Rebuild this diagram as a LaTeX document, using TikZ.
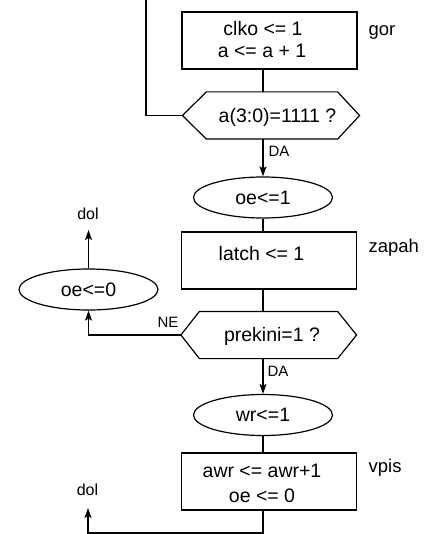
\documentclass[tikz,border=0pt]{standalone}
\usepackage{fontspec}
\setmainfont{Liberation Sans}
\usetikzlibrary{arrows.meta,shapes.geometric}
\begin{document}
\begin{tikzpicture}[x=1pt,y=-1pt,line width=1.2pt,
  stepbox/.style={draw,rectangle,minimum width=175pt,minimum height=57pt,inner sep=0pt},
  oval/.style={draw,ellipse,minimum width=139pt,minimum height=41pt,inner sep=0pt,
    font=\fontsize{19.5}{21}\selectfont},
  hexcore/.style={rectangle,minimum height=46pt,inner sep=0pt},
  txt/.style={font=\fontsize{19.5}{21}\selectfont,anchor=base,inner sep=0pt},
  lbl/.style={font=\fontsize{18.5}{20}\selectfont,anchor=base west,inner sep=0pt},
  tag/.style={font=\fontsize{15}{17}\selectfont,anchor=base west,inner sep=0pt},
  exit/.style={font=\fontsize{16}{18}\selectfont,anchor=base,inner sep=0pt},
  flow/.style={-{Stealth[length=10pt,width=7pt,inset=2pt]}}]
\useasboundingbox (0,0) rectangle (435,534);

% main vertical axis of the chart
\coordinate (ax) at (263,0);

% state "gor"
\node[stepbox] (gor) at (269.5,40.5) {};
\node[txt] (gor1) at (263,36) {clko <= 1};
\node[txt] (gor2) at (262,57.5) {a <= a + 1};
\node[lbl] (gorlbl) at (368,36) {gor};

% decision a(3:0)=1111 ?
\node[hexcore,minimum width=130pt] (h1) at (272,115.5) {};
\draw (h1.north west) -- (h1.north east) -- ([xshift=22pt]h1.east)
  -- (h1.south east) -- (h1.south west) -- ([xshift=-24pt]h1.west) -- cycle;
\coordinate (h1l) at ([xshift=-24pt]h1.west);
\node[txt] (h1t) at (277.5,122.5) {a(3:0)=1111 ?};

% loop back from the left tip
\coordinate (loop) at (146,0);
\draw (loop) |- (h1l);
\draw (gor.south -| ax) -- (h1.north -| ax);

% oe<=1
\node[oval] (oe1) at (263,197.5) {oe<=1};
\draw[flow] (h1.south -| ax) -- (oe1.north);
\node[tag] (da1) at (268,157) {DA};

% state "zapah"
\node[stepbox] (zap) at (269,260.5) {};
\node[txt] (zapt) at (261.5,260) {latch <= 1};
\node[lbl] (zaplbl) at (368,252.7) {zapah};
\draw (oe1.south) -- (zap.north -| ax);

% decision prekini=1 ?
\node[hexcore,minimum width=137pt] (h2) at (268.5,335) {};
\draw (h2.north west) -- (h2.north east) -- ([xshift=19pt]h2.east)
  -- (h2.south east) -- (h2.south west) -- ([xshift=-18.5pt]h2.west) -- cycle;
\coordinate (h2l) at ([xshift=-18.5pt]h2.west);
\node[txt] (h2t) at (272,341.5) {prekini=1 ?};
\draw (zap.south -| ax) -- (h2.north -| ax);

% NE branch
\node[oval] (oe0) at (88.5,289.5) {oe<=0};
\draw[flow] (h2l) -| (oe0.south);
\node[tag] (ne) at (157,327) {NE};
\coordinate (dolA) at (88.5,230);
\draw[flow] (oe0.north) -- (dolA);
\node[exit] (dolAt) at (88,219.5) {dol};

% DA branch
\node[oval] (wr) at (263,415) {wr<=1};
\draw[flow] (h2.south -| ax) -- (wr.north);
\node[tag] (da2) at (267,376) {DA};

% state "vpis"
\node[stepbox] (vp) at (269,481.5) {};
\node[txt] (vp1) at (262,477) {awr <= awr+1};
\node[txt] (vp2) at (262,502) {oe <= 0};
\node[lbl] (vplbl) at (368,472.7) {vpis};
\draw (wr.south) -- (vp.north -| ax);

% exit at the bottom
\coordinate (bend) at (263,533);
\coordinate (dolB) at (88,508);
\draw[flow] (vp.south -| ax) -- (bend) -| (dolB);
\node[exit] (dolBt) at (87.5,495) {dol};
\end{tikzpicture}
\end{document}
